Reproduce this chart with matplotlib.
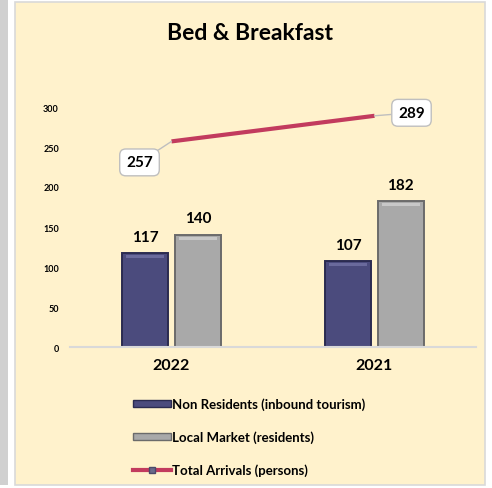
import numpy as np
import matplotlib.pyplot as plt
from matplotlib.patches import Rectangle
from matplotlib.lines import Line2D

plt.rcParams['font.family'] = ['Lato', 'DejaVu Sans']

# 数据
years = ['2022', '2021']
non_residents = [117, 107]
local_market = [140, 182]
total_arrivals = [257, 289]

navy = '#4b4b7d'
navy_edge = '#2b2b50'
grey = '#a9a9a9'
grey_edge = '#6b6b6b'
red = '#c23b5e'
bg = '#fff2cc'

fig = plt.figure(figsize=(4.92, 4.89), dpi=100, facecolor='white')
W, H = 492, 489

# 左边灰条 + 图表框
fig.patches.append(Rectangle((0, 3 / H), 8 / W, 1 - 3 / H, transform=fig.transFigure,
                             facecolor='#d0d0d0', edgecolor='none', zorder=-2))
fig.patches.append(Rectangle((15 / W, 3 / H), 470 / W, 483 / H, transform=fig.transFigure,
                             facecolor=bg, edgecolor='#d9d9d9', lw=1.2, zorder=-2))

ax = fig.add_axes([70 / W, (H - 348) / H, 406 / W, 240 / H])
ax.set_zorder(1)
ax.set_facecolor('none')
x = np.arange(len(years))
bw = 0.23
off = 0.13

b1 = ax.bar(x - off, non_residents, bw, color=navy, edgecolor=navy_edge, lw=1.4, zorder=2)
b2 = ax.bar(x + off, local_market, bw, color=grey, edgecolor=grey_edge, lw=1.4, zorder=2)
# 顶部高光（模拟斜面效果）
for bars, hl in [(b1, '#6a6a9c'), (b2, '#c8c8c8')]:
    for r in bars:
        ax.add_patch(Rectangle((r.get_x() + 0.02, r.get_height() - 6), r.get_width() - 0.04, 4,
                               facecolor=hl, edgecolor='none', zorder=3))

for xi, v in zip(x - off, non_residents):
    ax.text(xi, v + 12, str(v), ha='center', va='bottom', fontsize=11, fontweight='bold')
for xi, v in zip(x + off, local_market):
    ax.text(xi, v + 12, str(v), ha='center', va='bottom', fontsize=11, fontweight='bold')

ax.plot(x, total_arrivals, color=red, lw=3, zorder=4, solid_capstyle='butt')

offsets = [(-32, -21), (37, 3)]
for xi, v, o in zip(x, total_arrivals, offsets):
    ax.annotate(str(v), xy=(xi, v), xytext=o, textcoords='offset pixels',
                ha='center', va='center', fontsize=11, fontweight='bold', zorder=5,
                bbox=dict(boxstyle='round,pad=0.42,rounding_size=0.4', fc='white', ec='#bfbfbf', lw=1),
                arrowprops=dict(arrowstyle='-', color='#bfbfbf', lw=1, shrinkA=0, shrinkB=0))

ax.set_xlim(-0.5, 1.5)
ax.set_ylim(0, 300)
ax.set_yticks(np.arange(0, 301, 50))
ax.set_yticklabels([str(t) for t in range(0, 301, 50)], fontsize=6.5, fontweight='bold')
ax.set_xticks(x)
ax.set_xticklabels(years, fontsize=11.5, fontweight='bold')
ax.tick_params(axis='both', length=0)
ax.tick_params(axis='y', pad=8)
ax.tick_params(axis='x', pad=8)
for s in ['top', 'right', 'left']:
    ax.spines[s].set_visible(False)
ax.spines['bottom'].set_color('#d9d9d9')
ax.spines['bottom'].set_linewidth(1.5)

fig.text(250 / W, 1 - 33 / H, 'Bed & Breakfast', ha='center', va='center',
         fontsize=16.5, fontweight='bold')

handles = [
    Rectangle((0, 0), 1, 1, facecolor=navy, edgecolor=navy_edge, lw=1),
    Rectangle((0, 0), 1, 1, facecolor=grey, edgecolor=grey_edge, lw=1),
    Line2D([], [], color=red, lw=3, marker='s', markersize=5,
           markerfacecolor='#6a6a8a', markeredgecolor='#4a4a6a'),
]
labels = ['Non Residents (inbound tourism)', 'Local Market (residents)', 'Total Arrivals (persons)']
leg = fig.legend(handles, labels, loc='center left', bbox_to_anchor=(121 / W, 1 - 438 / H),
                 frameon=False, prop={'size': 9.5, 'weight': 'bold'},
                 handlelength=2.9, handleheight=0.4, handletextpad=0.1, labelspacing=1.55)

fig.savefig('out.png', dpi=100, facecolor='white')
